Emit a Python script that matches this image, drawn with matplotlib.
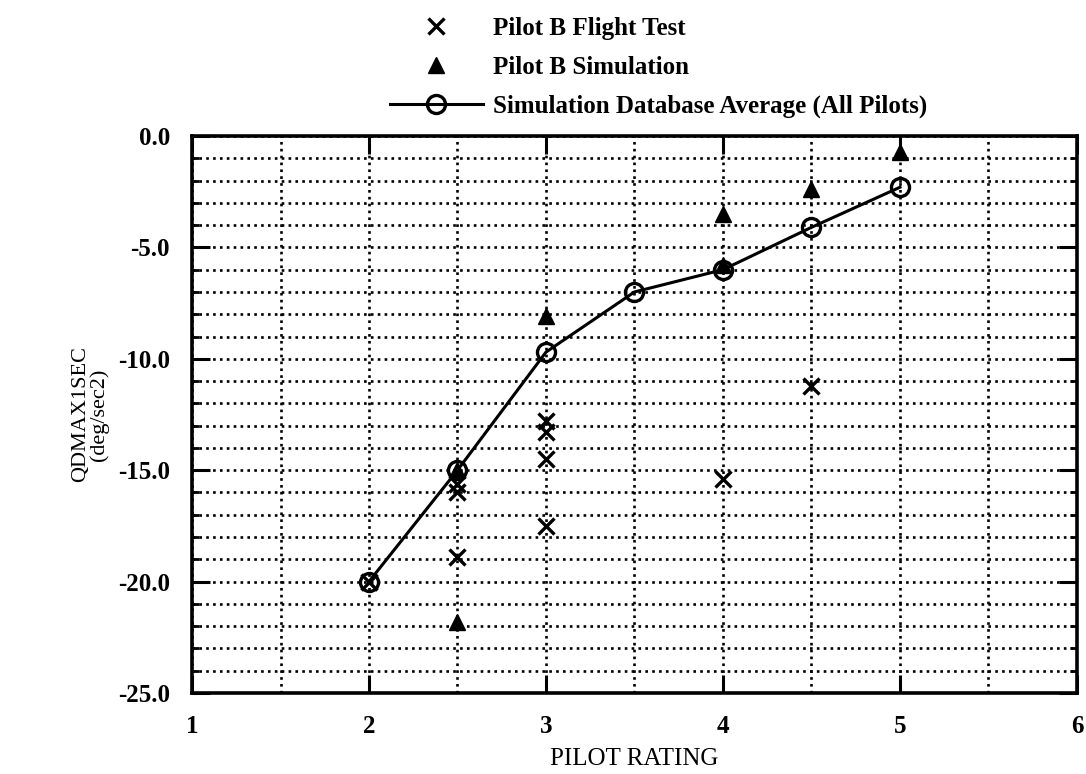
import numpy as np
import matplotlib.pyplot as plt
from matplotlib.ticker import MultipleLocator

plt.rcParams['font.family'] = ['Liberation Serif', 'DejaVu Serif']

# Simulation database average (all pilots)
avg_rating = [2.0, 2.5, 3.0, 3.5, 4.0, 4.5, 5.0]
avg_qdmax = [-20.0, -15.0, -9.7, -7.0, -6.0, -4.1, -2.3]

# Pilot B simulation runs
sim_rating = [2.5, 2.5, 3.0, 4.0, 4.0, 4.5, 5.0]
sim_qdmax = [-21.8, -15.0, -8.1, -5.8, -3.5, -2.4, -0.7]

# Pilot B flight test runs
ft_rating = [2.0, 2.5, 2.5, 2.5, 3.0, 3.0, 3.0, 3.0, 4.0, 4.5]
ft_qdmax = [-20.0, -15.6, -16.0, -18.9, -12.8, -13.3, -14.5, -17.5, -15.4, -11.2]

fig = plt.figure(figsize=(10.86, 7.74), dpi=100)
ax = fig.add_axes([0.1768, 0.1047, 0.8149, 0.7196])

ax.set_xlim(1, 6)
ax.set_ylim(-25, 0)

ax.xaxis.set_major_locator(MultipleLocator(1))
ax.xaxis.set_minor_locator(MultipleLocator(0.5))
ax.yaxis.set_major_locator(MultipleLocator(5))
ax.yaxis.set_minor_locator(MultipleLocator(1))

ax.grid(which='both', linestyle=(0, (1, 1.6)), color='black', linewidth=1.9)
ax.set_axisbelow(True)

ax.tick_params(which='major', direction='in', length=13, width=2.2,
               top=True, right=True, pad=16, labelsize=18)
ax.tick_params(which='minor', direction='in', length=5, width=2,
               top=False, bottom=False, right=True, left=True)
ax.yaxis.set_major_formatter(lambda v, p: f"{v:.1f}")

for sp in ax.spines.values():
    sp.set_linewidth(2.6)

ax.plot(ft_rating, ft_qdmax, linestyle='none', marker='x', color='black',
        markersize=12, markeredgewidth=2.4, label='Pilot B Flight Test')
ax.plot(sim_rating, sim_qdmax, linestyle='none', marker='^', color='black',
        markersize=12, label='Pilot B Simulation')
ax.plot(avg_rating, avg_qdmax, color='black', linewidth=2.2, marker='o',
        markersize=13, markerfacecolor='none', markeredgewidth=2.4,
        label='Simulation Database Average (All Pilots)')

for lab in ax.get_xticklabels() + ax.get_yticklabels():
    lab.set_fontweight('bold')

ax.set_xlabel('PILOT RATING', fontsize=18, labelpad=7)
ax.set_ylabel('QDMAX1SEC\n(deg/sec2)', fontsize=16, labelpad=6,
              linespacing=1.0)

leg = fig.legend(loc='lower left', bbox_to_anchor=(0.359, 0.8475),
                 frameon=False, handlelength=3.72,
                 handletextpad=0.4, labelspacing=0.64,
                 borderpad=0, borderaxespad=0,
                 prop={'weight': 'bold', 'size': 18})

fig.savefig('out.png', dpi=100)
